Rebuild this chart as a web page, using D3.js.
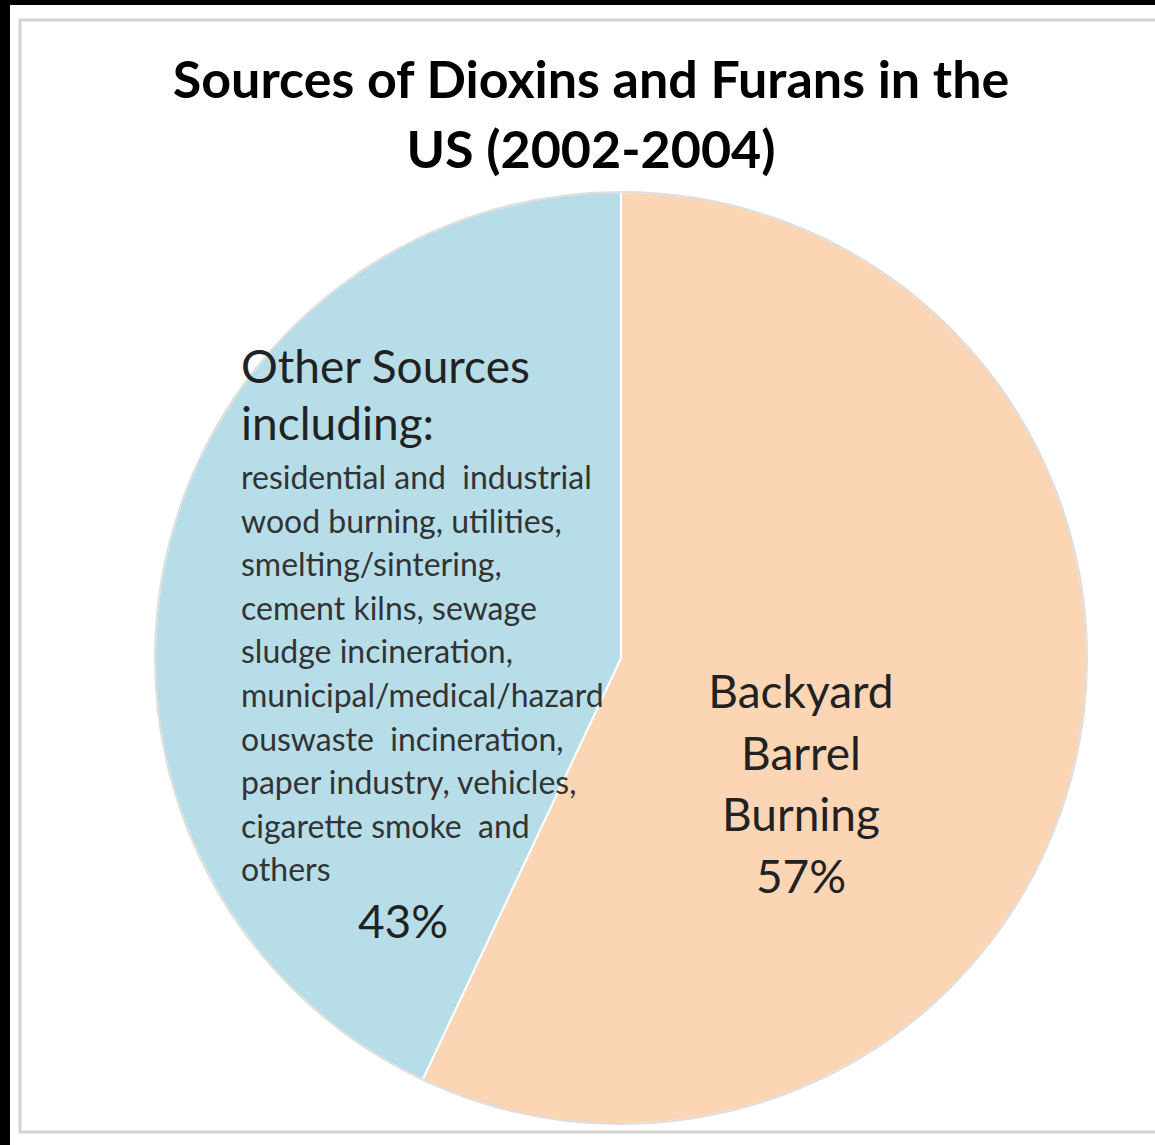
<!DOCTYPE html>
<html>
<head>
<meta charset="utf-8">
<script src="https://cdn.jsdelivr.net/npm/d3@7"></script>
<style>
    body { margin: 0; background: #000; }
    svg { display: block; }
    text { white-space: pre; }
    .title { font-family: Lato, "Open Sans", sans-serif; font-weight: bold; fill: #000; }
    .label-big { font-family: Lato, "Open Sans", sans-serif; fill: #222; }
    .label-small { font-family: Lato, "Open Sans", sans-serif; fill: #333; }
</style>
</head>
<body>
<div id="chart"></div>
<script>

// data
const categories = ['Backyard Barrel Burning', 'Other Sources'];
const values = [57, 43];
const sliceColors = ['#fcd5b5', '#b7dee8'];
const titleLines = ['Sources of Dioxins and Furans in the', 'US (2002-2004)'];
const backyardLines = ['Backyard', 'Barrel', 'Burning'];
const otherHeadLines = ['Other Sources', 'including:'];
const otherDetailLines = [
    'residential and  industrial',
    'wood burning, utilities,',
    'smelting/sintering,',
    'cement kilns, sewage',
    'sludge incineration,',
    'municipal/medical/hazard',
    'ouswaste  incineration,',
    'paper industry, vehicles,',
    'cigarette smoke  and',
    'others'
];

const width = 1155;
const height = 1145;

const cx = 621, cy = 658, radius = 466;

var svg = d3.select("#chart")
    .append("svg")
    .attr("width", width)
    .attr("height", height);

// white card with its grey frame
svg.append("rect")
    .attr("x", 10).attr("y", 5)
    .attr("width", width).attr("height", height)
    .attr("fill", "#fff");

svg.append("rect")
    .attr("x", 20).attr("y", 20)
    .attr("width", width).attr("height", 1112)
    .attr("fill", "none")
    .attr("stroke", "#d2d2d2")
    .attr("stroke-width", 3);

// title
svg.append("text")
    .attr("class", "title")
    .attr("text-anchor", "middle")
    .style("font-size", "52px")
    .selectAll("tspan")
    .data(titleLines)
    .enter().append("tspan")
    .attr("x", 591)
    .attr("y", (d, i) => 98 + i * 70)
    .text(d => d);

// pie
var pie = d3.pie().sort(null).value(d => d);
var arc = d3.arc().innerRadius(0).outerRadius(radius);

var plot = svg.append("g")
    .attr("transform", "translate(" + cx + "," + cy + ")");

plot.selectAll("path.slice")
    .data(pie(values))
    .enter().append("path")
    .attr("class", "slice")
    .attr("d", arc)
    .attr("fill", (d, i) => sliceColors[i])
    .attr("stroke", "#fff")
    .attr("stroke-width", 2);

// soft edge round the pie
plot.append("circle")
    .attr("r", radius)
    .attr("fill", "none")
    .attr("stroke", "#c8c8c8")
    .attr("stroke-opacity", 0.6)
    .attr("stroke-width", 2);

// Backyard label, centred in the orange slice
var bLabel = plot.append("text")
    .attr("class", "label-big")
    .attr("text-anchor", "middle")
    .style("font-size", "46px");

bLabel.selectAll("tspan")
    .data(backyardLines.concat([values[0] + '%']))
    .enter().append("tspan")
    .attr("x", 180)
    .attr("y", (d, i) => 50 + i * 61.5)
    .text(d => d);

// Other sources label, left aligned in the blue slice
var oLabel = plot.append("g")
    .attr("transform", "translate(-380,0)");

oLabel.append("text")
    .attr("class", "label-big")
    .style("font-size", "46px")
    .selectAll("tspan")
    .data(otherHeadLines)
    .enter().append("tspan")
    .attr("x", 0)
    .attr("y", (d, i) => -275 + i * 57)
    .text(d => d);

oLabel.append("text")
    .attr("class", "label-small")
    .style("font-size", "32px")
    .selectAll("tspan")
    .data(otherDetailLines)
    .enter().append("tspan")
    .attr("x", 0)
    .attr("y", (d, i) => -169 + i * 43.6)
    .text(d => d);

oLabel.append("text")
    .attr("class", "label-big")
    .attr("text-anchor", "middle")
    .style("font-size", "46px")
    .attr("x", 162)
    .attr("y", 280)
    .text(values[1] + '%');

</script>
</body>
</html>
